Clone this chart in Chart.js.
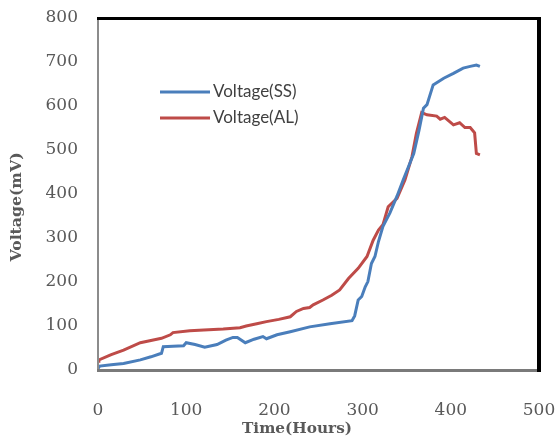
<!DOCTYPE html>
<html>
<head>
<meta charset="utf-8">
<script src="https://cdn.jsdelivr.net/npm/chart.js@4/dist/chart.umd.min.js"></script>
<style>
  body { margin: 0; background: #fff; }
  #wrap { width: 558px; height: 438px; }
</style>
</head>
<body>
<div id="wrap"><canvas id="chart" width="558" height="438"></canvas></div>
<script>
// DATA
const ssHours = [0, 2, 15, 29, 48, 60, 72, 74, 85, 97, 100, 110, 121, 135, 145, 153, 158, 167, 177, 187, 191, 203, 218, 240, 263, 288, 291, 295, 299, 303, 306, 310, 314, 318, 323, 331, 339, 346, 352, 358, 364, 369, 373, 380, 392, 403, 414, 422, 429, 433];
const ssVolts = [3, 9, 12, 15, 23, 30, 38, 53, 54, 55, 62, 58, 52, 58, 68, 74, 74, 62, 70, 76, 71, 80, 87, 98, 105, 112, 123, 159, 167, 189, 201, 242, 258, 292, 326, 357, 395, 432, 462, 492, 545, 595, 603, 648, 663, 674, 686, 690, 693, 690];

const alHours = [0, 1, 15, 29, 48, 60, 72, 82, 85, 104, 120, 142, 161, 168, 180, 191, 205, 218, 225, 233, 240, 244, 255, 265, 274, 284, 295, 305, 312, 318, 323, 329, 339, 348, 356, 361, 367, 373, 384, 388, 393, 403, 410, 416, 422, 427, 429, 433];
const alVolts = [20, 23, 35, 45, 62, 67, 72, 80, 85, 89, 91, 93, 96, 100, 105, 110, 115, 121, 133, 140, 142, 148, 159, 170, 182, 208, 231, 258, 295, 318, 330, 371, 390, 432, 485, 538, 585, 580, 577, 570, 574, 557, 562, 551, 551, 539, 492, 489];

const seriesNames = ["Voltage(SS)", "Voltage(AL)"];
const seriesColors = ["#4a7ebb", "#be4b48"];
const xTitle = "Time(Hours)";
const yTitle = "Voltage(mV)";

function toPoints(xs, ys) {
    return xs.map((x, i) => ({ x: x, y: ys[i] }));
}

// pick a font size so the text is about w pixels wide
function fitFont(ctx, text, w) {
    ctx.font = "bold 14px 'DejaVu Serif'";
    const size = 14 * w / ctx.measureText(text).width;
    ctx.font = "bold " + size.toFixed(1) + "px 'DejaVu Serif'";
}

// frame, legend and axis titles
const extras = {
    id: "extras",
    afterDraw(chart) {
        const ctx = chart.ctx;
        const a = chart.chartArea;
        const L = Math.round(a.left), T = Math.round(a.top);
        const R = Math.round(a.right), B = Math.round(a.bottom);
        ctx.save();

        // frame: grey left/bottom, black top/right
        ctx.fillStyle = "#8c8c8c";
        ctx.fillRect(L - 1, T, 2, B - T);
        ctx.fillStyle = "#7a7a7a";
        ctx.fillRect(L - 1, B - 1, R - L, 3);
        ctx.fillStyle = "#000000";
        ctx.fillRect(L - 1, T - 1, R - L + 1, 3);
        ctx.fillRect(R - 2, T - 1, 4, B - T + 3);

        // legend inside the plot
        ctx.font = "17px Lato";
        ctx.textBaseline = "middle";
        ctx.textAlign = "left";
        chart.data.datasets.forEach((ds, i) => {
            const y = a.top + 74 + i * 26;
            ctx.strokeStyle = ds.borderColor;
            ctx.lineWidth = 3;
            ctx.beginPath();
            ctx.moveTo(a.left + 62, y);
            ctx.lineTo(a.left + 112, y);
            ctx.stroke();
            ctx.fillStyle = "#404040";
            ctx.fillText(ds.label, a.left + 115, y);
        });

        // axis titles
        ctx.fillStyle = "#595959";
        ctx.textAlign = "center";
        fitFont(ctx, xTitle, 110);
        ctx.fillText(xTitle, 297, 429);
        fitFont(ctx, yTitle, 109);
        ctx.translate(17, 207);
        ctx.rotate(-Math.PI / 2);
        ctx.fillText(yTitle, 0, 0);
        ctx.restore();
    }
};

const chart = new Chart(document.getElementById("chart"), {
    type: "scatter",
    data: {
        datasets: [{
            label: seriesNames[0],
            data: toPoints(ssHours, ssVolts),
            borderColor: seriesColors[0],
            backgroundColor: seriesColors[0],
            showLine: true,
            borderWidth: 3,
            pointRadius: 0,
            tension: 0
        }, {
            label: seriesNames[1],
            data: toPoints(alHours, alVolts),
            borderColor: seriesColors[1],
            backgroundColor: seriesColors[1],
            showLine: true,
            borderWidth: 3,
            pointRadius: 0,
            tension: 0
        }]
    },
    options: {
        responsive: false,
        animation: false,
        layout: { padding: { top: 18, right: 19, left: 0, bottom: 0 } },
        plugins: {
            legend: { display: false },
            tooltip: { enabled: false }
        },
        scales: {
            x: {
                type: "linear",
                min: 0,
                max: 500,
                ticks: {
                    stepSize: 100,
                    padding: 22,
                    color: "#595959",
                    font: { family: "DejaVu Serif", size: 17 },
                    maxRotation: 0
                },
                grid: { display: false },
                border: { display: false },
                afterFit(scale) {
                    scale.height = 68;
                    scale.paddingLeft = 0;
                    scale.paddingRight = 0;
                }
            },
            y: {
                min: 0,
                max: 800,
                ticks: {
                    stepSize: 100,
                    padding: 12,
                    color: "#595959",
                    font: { family: "DejaVu Serif", size: 17 }
                },
                grid: { display: false },
                border: { display: false },
                afterFit(scale) {
                    scale.width = 98;
                    scale.paddingTop = 0;
                    scale.paddingBottom = 0;
                }
            }
        }
    },
    plugins: [extras]
});
</script>
</body>
</html>
